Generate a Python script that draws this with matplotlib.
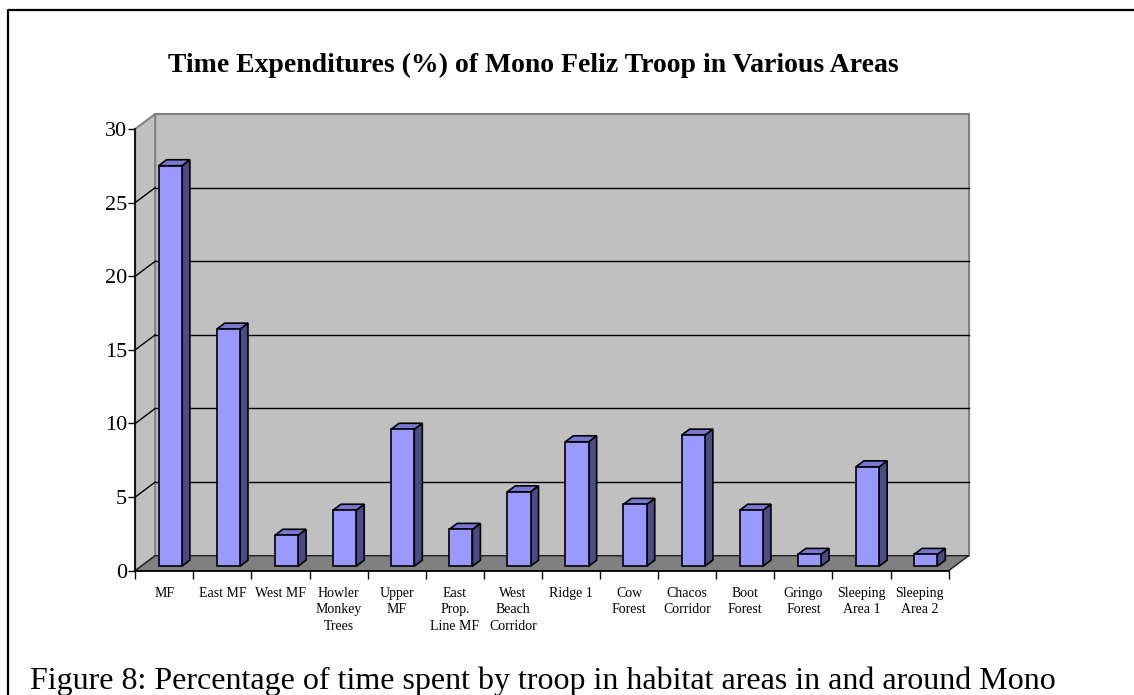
import matplotlib
matplotlib.use("Agg")
import matplotlib.pyplot as plt
from matplotlib.patches import Polygon
from matplotlib.transforms import IdentityTransform
from matplotlib.lines import Line2D

categories = ["MF", "East MF", "West MF", "Howler\nMonkey\nTrees", "Upper\nMF",
              "East\nProp.\nLine MF", "West\nBeach\nCorridor", "Ridge 1", "Cow\nForest",
              "Chacos\nCorridor", "Boot\nForest", "Gringo\nForest", "Sleeping\nArea 1",
              "Sleeping\nArea 2"]
values = [27.2, 16.1, 2.1, 3.8, 9.3, 2.5, 5.05, 8.45, 4.2, 8.9, 3.8, 0.8, 6.75, 0.8]
yticks = [0, 5, 10, 15, 20, 25, 30]
title = "Time Expenditures (%) of Mono Feliz Troop in Various Areas"
caption = "Figure 8: Percentage of time spent by troop in habitat areas in and around Mono"

SERIF = ["Liberation Serif", "DejaVu Serif"]
W, H = 1134, 695
DX, DY = 20.0, 15.0          # depth offset in pixels
F0, F1 = 0.3, 0.7            # bar depth range
BW = 0.4                     # bar width (category units)

fig = plt.figure(figsize=(W / 100, H / 100), dpi=100)
fig.patch.set_facecolor("white")

left, right = 135.2, 948.7
top, bottom = 129.0, 570.7
ax = fig.add_axes([left / W, (H - bottom) / H, (right - left) / W, (bottom - top) / H])
ax.set_xlim(0, len(categories))
ax.set_ylim(0, 30)
ax.patch.set_visible(False)
for s in ["top", "right"]:
    ax.spines[s].set_visible(False)
for s in ["left", "bottom"]:
    ax.spines[s].set_color("black")
    ax.spines[s].set_linewidth(1.2)
    ax.spines[s].set_zorder(20)

ax.set_yticks(yticks)
ax.set_yticklabels([str(t) for t in yticks], fontfamily=SERIF, fontsize=16)
ax.tick_params(axis="y", direction="out", length=5, width=1, pad=1)

ax.set_xticks(range(len(categories) + 1))
ax.set_xticklabels([])
ax.tick_params(axis="x", which="major", direction="out", length=6, width=1)
ax.set_xticks([i + 0.5 for i in range(len(categories))], minor=True)
ax.set_xticklabels(categories, minor=True, fontfamily=SERIF, fontsize=10)
ax.tick_params(axis="x", which="minor", length=0, pad=11.5)
for lab in ax.get_xticklabels(minor=True):
    lab.set_linespacing(1.36)

fig.canvas.draw()


def P(x, y, f):
    px, py = ax.transData.transform((x, y))
    return (px + f * DX, py + f * DY)


def poly(pts, fc, ec, lw=1.0, z=1):
    p = Polygon(pts, closed=True, facecolor=fc, edgecolor=ec, linewidth=lw,
                transform=IdentityTransform(), zorder=z, clip_on=False)
    ax.add_patch(p)


def line(p1, p2, color, lw=1.0, z=2):
    ln = Line2D([p1[0], p2[0]], [p1[1], p2[1]], color=color, linewidth=lw,
                transform=IdentityTransform(), zorder=z, clip_on=False)
    ax.add_line(ln)


n = len(categories)
wall = "#c0c0c0"
edge = "#808080"
# back wall
poly([P(0, 0, 1), P(n, 0, 1), P(n, 30, 1), P(0, 30, 1)], wall, edge, 1.5, 1)
# side wall
poly([P(0, 0, 0), P(0, 30, 0), P(0, 30, 1), P(0, 0, 1)], wall, edge, 1.5, 1)
# gridlines
for t in yticks[1:-1]:
    line(P(0, t, 0), P(0, t, 1), "black", 1.0, 2)
    line(P(0, t, 1), P(n, t, 1), "black", 1.0, 2)
# floor
poly([P(0, 0, 0), P(n, 0, 0), P(n, 0, 1), P(0, 0, 1)], "#808080", "#202020", 1.0, 3)

# bars
for i, v in enumerate(values):
    xl, xr = i + 0.5 - BW / 2, i + 0.5 + BW / 2
    poly([P(xr, 0, F0), P(xr, v, F0), P(xr, v, F1), P(xr, 0, F1)], "#4b4b85", "black", 1.2, 5)
    poly([P(xl, v, F0), P(xr, v, F0), P(xr, v, F1), P(xl, v, F1)], "#7878d4", "black", 1.2, 5)
    poly([P(xl, 0, F0), P(xr, 0, F0), P(xr, v, F0), P(xl, v, F0)], "#9999ff", "black", 1.2, 6)

fig.text(533 / W, 1 - 72 / H, title, ha="center", va="baseline",
         fontfamily=SERIF, fontsize=20, fontweight="bold")
fig.text(30 / W, 1 - 689 / H, caption, ha="left", va="baseline",
         fontfamily=SERIF, fontsize=23)

# outer frame (left and top edges)
fig.add_artist(Line2D([8 / W, 8 / W, 1.0], [0.0, 1 - 10 / H, 1 - 10 / H],
                      transform=fig.transFigure, color="black", linewidth=1.6))

fig.savefig("out.png", dpi=100)
